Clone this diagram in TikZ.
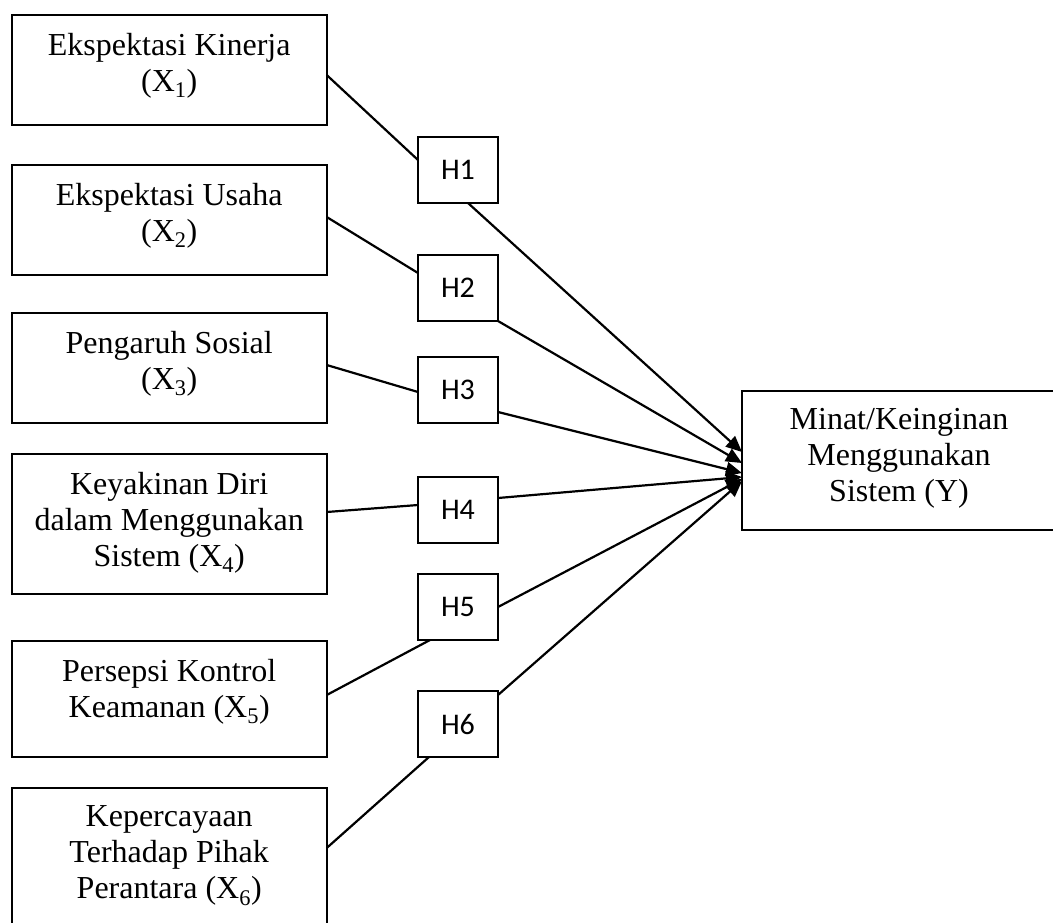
\documentclass[tikz,border=0pt]{standalone}
\usepackage{fontspec}
\setmainfont{Liberation Serif}
\newfontfamily\hfont{Carlito}
\usetikzlibrary{arrows.meta}
\begin{document}
\begin{tikzpicture}[x=1pt,y=-1pt,
  box/.style={draw,line width=2.2pt,rectangle,inner sep=0pt,outer sep=0pt,anchor=north west},
  txt/.style={align=center,inner sep=0pt,outer sep=0pt,anchor=north,font=\fontsize{32}{36}\selectfont},
  hbox/.style={draw,line width=2.2pt,rectangle,inner sep=0pt,outer sep=0pt,minimum width=80pt,minimum height=66pt,font=\hfont\fontsize{30}{34}\selectfont},
  conn/.style={line width=2.2pt},
  arr/.style={conn,-{Triangle[length=16pt,width=14pt]}}]
\useasboundingbox (0,0) rectangle (1053,922);
% left boxes
\node[box,minimum width=315pt,minimum height=110pt] (b1) at (11.7,15) {};
\node[box,minimum width=315pt,minimum height=110pt] (b2) at (11.7,165) {};
\node[box,minimum width=315pt,minimum height=110pt] (b3) at (11.7,313) {};
\node[box,minimum width=315pt,minimum height=140pt] (b4) at (11.7,454) {};
\node[box,minimum width=315pt,minimum height=116pt] (b5) at (11.7,641) {};
\node[box,minimum width=315pt,minimum height=152pt] (b6) at (11.7,788) {};
\node[txt] (t1) at (169.2,33) {Ekspektasi Kinerja\\(X\textsubscript{1})};
\node[txt] (t2) at (169.2,183) {Ekspektasi Usaha\\(X\textsubscript{2})};
\node[txt] (t3) at (169.2,331) {Pengaruh Sosial\\(X\textsubscript{3})};
\node[txt] (t4) at (169.2,472) {Keyakinan Diri\\dalam Menggunakan\\Sistem (X\textsubscript{4})};
\node[txt] (t5) at (169.2,659) {Persepsi Kontrol\\Keamanan (X\textsubscript{5})};
\node[txt] (t6) at (169.2,806) {Kepercayaan\\Terhadap Pihak\\Perantara (X\textsubscript{6})};
% hypothesis boxes
\node[hbox] (h1) at (458,170) {H1};
\node[hbox] (h2) at (458,288) {H2};
\node[hbox] (h3) at (458,390) {H3};
\node[hbox] (h4) at (458,510) {H4};
\node[hbox] (h5) at (458,607) {H5};
\node[hbox] (h6) at (458,724) {H6};
% dependent box
\node[box,minimum width=320pt,minimum height=139pt] (y) at (742,391) {};
\node[txt] (ty) at (899,408) {Minat/Keinginan\\Menggunakan\\Sistem (Y)};
% connectors into H boxes
\draw[conn] ([yshift=-5pt]b1.east) -- ([yshift=10pt]h1.west);
\draw[conn] ([yshift=3pt]b2.east) -- ([yshift=15pt]h2.west);
\draw[conn] ([yshift=3pt]b3.east) -- ([yshift=-2pt]h3.west);
\draw[conn] ([yshift=12pt]b4.east) -- ([yshift=5pt]h4.west);
\draw[conn] ([yshift=4pt]b5.east) -- ([xshift=-28pt]h5.south);
\draw[conn] ([yshift=16pt]b6.east) -- ([xshift=-29pt]h6.south);
% arrows into Y
\draw[arr] ([xshift=10pt]h1.south) -- ([yshift=8.5pt]y.west);
\draw[arr] (h2.south east) -- ([yshift=-2.5pt]y.west);
\draw[arr] ([yshift=-22pt]h3.east) -- ([yshift=-12.5pt]y.west);
\draw[arr] ([yshift=12pt]h4.east) -- ([yshift=-16.5pt]y.west);
\draw[arr] (h5.east) -- ([yshift=-18.5pt]y.west);
\draw[arr] ([yshift=29pt]h6.east) -- ([yshift=-20.5pt]y.west);
\end{tikzpicture}
\end{document}
